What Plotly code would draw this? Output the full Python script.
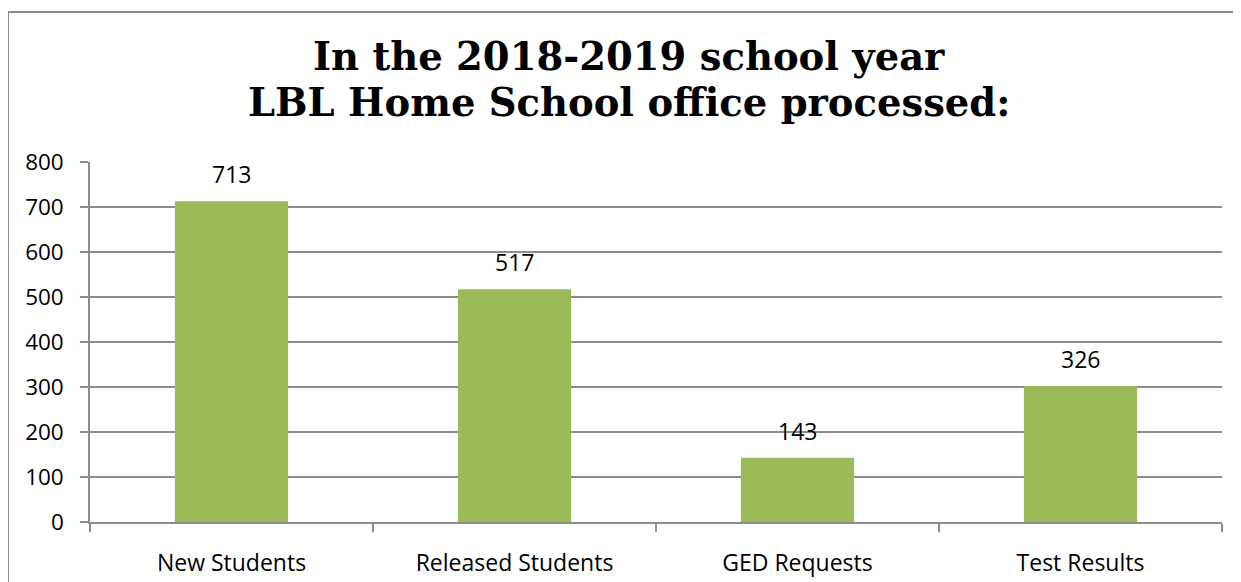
import plotly.graph_objects as go

categories = ["New Students", "Released Students", "GED Requests", "Test Results"]
bar_values = [713, 517, 143, 302]
label_texts = ["713", "517", "143", "326"]
y_ticks = [0, 100, 200, 300, 400, 500, 600, 700, 800]
title_line1 = "In the 2018-2019 school year"
title_line2 = "LBL Home School office processed:"

OFF = 8  # page body margin
W, H = 1241 - OFF, 582 - OFF
ml, mr, mt, mb = 90 - OFF, 19, 162 - OFF, 60
pw, ph = W - ml - mr, H - mt - mb

def px_to_paper_x(px):
    return (px - OFF - ml) / pw

def px_to_paper_y(py):
    return (H - mb - (py - OFF)) / ph

grid_col = "#8c8c8c"
fig = go.Figure()
fig.add_trace(go.Bar(
    x=categories, y=bar_values,
    marker=dict(color="#9BBB59", line=dict(width=0)),
))
for c, v, t in zip(categories, bar_values, label_texts):
    fig.add_annotation(x=c, y=v, text=t, showarrow=False, yshift=27,
                       xanchor="center", yanchor="middle",
                       font=dict(family="Open Sans", size=23, color="#000000"))

fig.update_layout(
    width=W, height=H,
    margin=dict(l=ml, r=mr, t=mt, b=mb, autoexpand=False),
    paper_bgcolor="white", plot_bgcolor="white",
    showlegend=False, bargap=0.6,
    font=dict(family="Open Sans", size=23, color="#000000"),
)
fig.update_yaxes(
    range=[0, 800], tickvals=y_ticks, showgrid=True, gridcolor=grid_col, gridwidth=1.5,
    showline=True, linecolor=grid_col, linewidth=1.5,
    ticks="outside", ticklen=8, tickcolor=grid_col, tickwidth=1.5,
    ticklabelstandoff=12, zeroline=False, automargin=False,
    tickfont=dict(family="Open Sans", size=22.5, color="#000000"),
)
fig.update_xaxes(
    showline=True, linecolor=grid_col, linewidth=1.5,
    ticks="outside", ticklen=8, tickcolor=grid_col, tickwidth=1.5,
    tickson="boundaries", showgrid=False, automargin=False,
    tickfont=dict(family="Open Sans", size=23, color="#000000"),
    ticklabelstandoff=20,
)

# outer chart frame
fig.add_shape(type="rect", xref="paper", yref="paper",
              x0=px_to_paper_x(8), x1=px_to_paper_x(1260),
              y0=px_to_paper_y(600), y1=px_to_paper_y(12),
              line=dict(color="#8c8c8c", width=2), fillcolor="rgba(0,0,0,0)", layer="below")

for txt, cy in [(title_line1, 57), (title_line2, 103)]:
    fig.add_annotation(text="<b>%s</b>" % txt, xref="paper", yref="paper",
                       x=px_to_paper_x(629), y=px_to_paper_y(cy),
                       xanchor="center", yanchor="middle", showarrow=False,
                       font=dict(family="DejaVu Serif", size=38.5, color="#000000"))

fig.write_html("out.html")
